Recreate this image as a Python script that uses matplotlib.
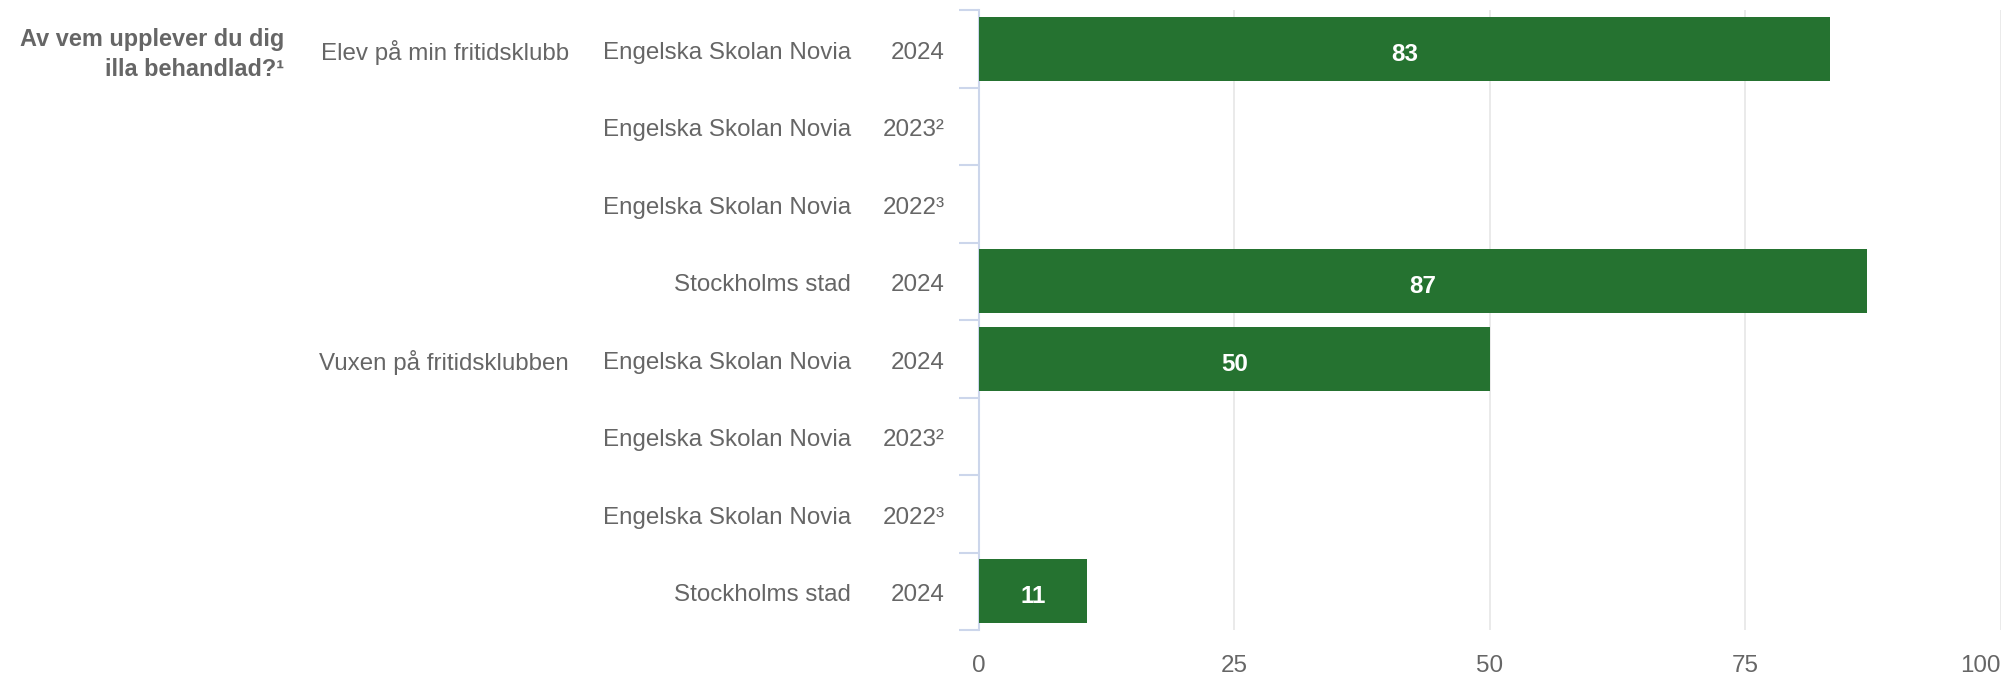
import numpy as np
import matplotlib
matplotlib.use('Agg')
import matplotlib.pyplot as plt
from matplotlib.transforms import blended_transform_factory

# ─────────────── data ───────────────
title_lines = 'Av vem upplever du dig\nilla behandlad?¹'
groups = ['Elev på min fritidsklubb', 'Vuxen på fritidsklubben']
group_rows = [0, 4]
units = ['Engelska Skolan Novia', 'Engelska Skolan Novia', 'Engelska Skolan Novia', 'Stockholms stad',
         'Engelska Skolan Novia', 'Engelska Skolan Novia', 'Engelska Skolan Novia', 'Stockholms stad']
years = ['2024', '2023²', '2022³', '2024', '2024', '2023²', '2022³', '2024']
values = [83.3, np.nan, np.nan, 86.9, 50.0, np.nan, np.nan, 10.6]
x_ticks = [0, 25, 50, 75, 100]

# ─────────────── style ───────────────
plt.rcParams['font.family'] = ['Liberation Sans', 'DejaVu Sans']
text_col = '#666666'
bar_col = '#257230'
axis_col = '#ccd6eb'
grid_col = '#e6e6e6'
fs = 17.4

fig = plt.figure(figsize=(20.15, 6.76), dpi=100)
ax = fig.add_axes([979 / 2015, 46 / 676, 1022 / 2015, 620 / 676])

rows = np.arange(len(values))
ax.barh(rows, values, height=0.82, color=bar_col, zorder=3)
for r, v in zip(rows, values):
    if not np.isnan(v):
        ax.text(v / 2, r + 0.07, f'{v:.0f}', ha='center', va='center', color='white',
                fontsize=fs, fontweight='bold', zorder=4)

ax.set_xlim(0, 100)
ax.set_ylim(len(values) - 0.5, -0.5)
ax.set_xticks(x_ticks)
ax.set_xticklabels([str(t) for t in x_ticks])
ax.get_xticklabels()[-1].set_ha('right')
ax.tick_params(axis='x', length=0, pad=18, labelsize=fs, labelcolor=text_col)
ax.set_yticks(np.arange(len(values) + 1) - 0.5)
ax.set_yticklabels([])
ax.tick_params(axis='y', length=14.4, width=1.5, color=axis_col)

for s in ['top', 'right', 'bottom']:
    ax.spines[s].set_visible(False)
ax.spines['left'].set_color(axis_col)
ax.spines['left'].set_linewidth(1.5)

for t in x_ticks[1:]:
    ax.axvline(t, color=grid_col, lw=1.2, zorder=1)

# labels on the left
tr = blended_transform_factory(fig.transFigure, ax.transData)
for r in rows:
    ax.text(945 / 2015, r + 0.05, years[r], transform=tr, ha='right', va='center',
            fontsize=fs, color=text_col)
    ax.text(851 / 2015, r + 0.05, units[r], transform=tr, ha='right', va='center',
            fontsize=fs, color=text_col)
for g, r in zip(groups, group_rows):
    ax.text(569 / 2015, r + 0.05, g, transform=tr, ha='right', va='center',
            fontsize=fs, color=text_col)
ax.text(284 / 2015, 0.07, title_lines, transform=tr, ha='right', va='center',
        fontsize=16.9, color=text_col, fontweight='bold', linespacing=1.4)

fig.savefig('out.png', dpi=100)
